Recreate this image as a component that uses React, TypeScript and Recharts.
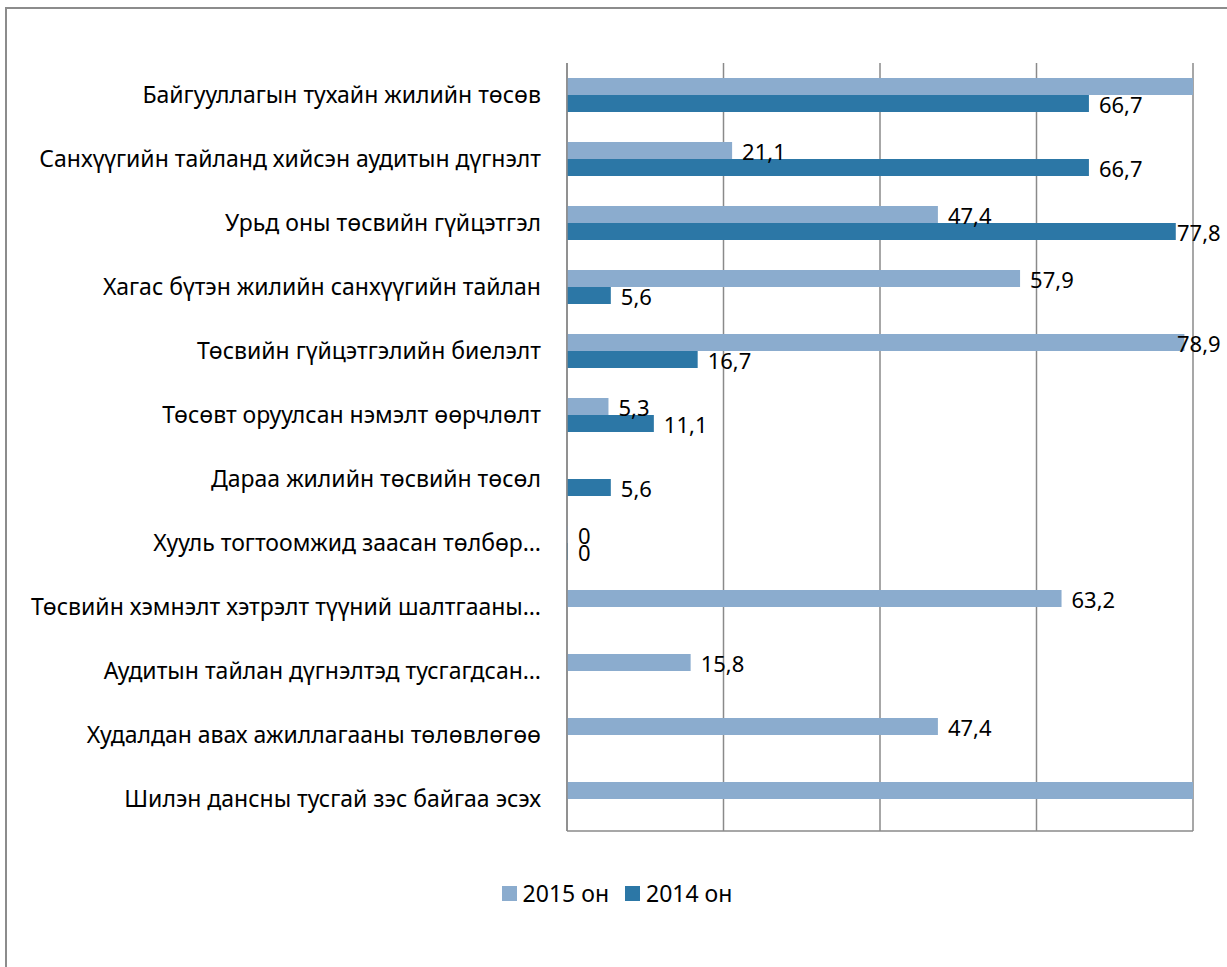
import React from 'react';
import { BarChart, Bar, XAxis, YAxis, CartesianGrid, Legend } from 'recharts';

const categories = [
  'Байгууллагын тухайн жилийн төсөв',
  'Санхүүгийн тайланд хийсэн аудитын дүгнэлт',
  'Урьд оны төсвийн гүйцэтгэл',
  'Хагас бүтэн жилийн санхүүгийн тайлан',
  'Төсвийн гүйцэтгэлийн биелэлт',
  'Төсөвт оруулсан нэмэлт өөрчлөлт',
  'Дараа жилийн төсвийн төсөл',
  'Хууль тогтоомжид заасан төлбөр…',
  'Төсвийн хэмнэлт хэтрэлт түүний шалтгааны…',
  'Аудитын тайлан дүгнэлтэд тусгагдсан…',
  'Худалдан авах ажиллагааны төлөвлөгөө',
  'Шилэн дансны тусгай зэс байгаа эсэх',
];

const values2015: (number | null)[] = [100, 21.1, 47.4, 57.9, 78.9, 5.3, null, 0, 63.2, 15.8, 47.4, 100];
const values2014: (number | null)[] = [66.7, 66.7, 77.8, 5.6, 16.7, 11.1, 5.6, 0, null, null, null, null];

const seriesNames = ['2015 он', '2014 он'];
const COLORS = ['#8BACCE', '#2C77A6'];

const xTicks = [0, 20, 40, 60, 80];
const X_MAX = 80;

const data = categories.map((name, i) => ({
  name,
  y2015: values2015[i],
  y2014: values2014[i],
}));

const CHART_W = 1227;
const CHART_H = 967;
const FONT = '"Noto Sans", sans-serif';
const GRID = '#8a8a8a';

const renderValue = (props: any) => {
  const { x, y, width, height, value } = props;
  if (value === null || value === undefined || value > X_MAX) return null;
  const text = String(value).replace('.', ',');
  // keep the text inside the chart, like the original does near the right edge
  const tx = Math.min(Number(x) + Number(width || 0) + 10, CHART_W - 50);
  return (
    <text
      x={tx}
      y={Number(y) + Number(height) / 2}
      dominantBaseline="central"
      fontFamily={FONT}
      fontSize={22}
      fill="#000"
    >
      {text}
    </text>
  );
};

const renderLegend = () => (
  <div style={{ display: 'flex', justifyContent: 'center', alignItems: 'center', fontFamily: FONT, fontSize: 23, color: '#000' }}>
    {seriesNames.map((n, i) => (
      <div key={n} style={{ display: 'flex', alignItems: 'center', marginRight: i === 0 ? 16 : 0 }}>
        <span style={{ display: 'inline-block', width: 15, height: 15, background: COLORS[i], marginRight: 6 }} />
        <span>{n}</span>
      </div>
    ))}
  </div>
);

export default function App() {
  return (
    <div style={{ position: 'fixed', left: 0, top: 0, width: CHART_W, height: CHART_H, overflow: 'hidden', background: '#fff' }}>
      <div
        style={{
          position: 'absolute',
          left: 5,
          top: 7,
          width: 1300,
          height: 1100,
          border: '2px solid #8c8c8c',
          boxSizing: 'border-box',
        }}
      />
      <div style={{ position: 'absolute', left: 0, top: 0 }}>
        <BarChart
          width={CHART_W}
          height={CHART_H}
          data={data}
          layout="vertical"
          margin={{ top: 63, right: 34, bottom: 102, left: 0 }}
          barGap={0}
          barSize={17}
        >
          <CartesianGrid horizontal={false} stroke={GRID} strokeWidth={1.5} />
          <XAxis
            type="number"
            domain={[0, X_MAX]}
            ticks={xTicks}
            allowDataOverflow
            tick={() => <g />}
            tickLine={false}
            height={2}
            axisLine={{ stroke: GRID, strokeWidth: 1.5 }}
          />
          <YAxis
            type="category"
            dataKey="name"
            width={567}
            tickLine={false}
            tickSize={0}
            tickMargin={26}
            interval={0}
            axisLine={{ stroke: GRID, strokeWidth: 1.5 }}
            tick={{ fontFamily: FONT, fontSize: 23, fill: '#000' }}
          />
          <Legend
            verticalAlign="bottom"
            content={renderLegend}
            wrapperStyle={{ left: 0, width: 1234, bottom: 58 }}
          />
          <Bar dataKey="y2015" name={seriesNames[0]} fill={COLORS[0]} minPointSize={1} isAnimationActive={false} label={renderValue} />
          <Bar dataKey="y2014" name={seriesNames[1]} fill={COLORS[1]} minPointSize={1} isAnimationActive={false} label={renderValue} />
        </BarChart>
      </div>
    </div>
  );
}
